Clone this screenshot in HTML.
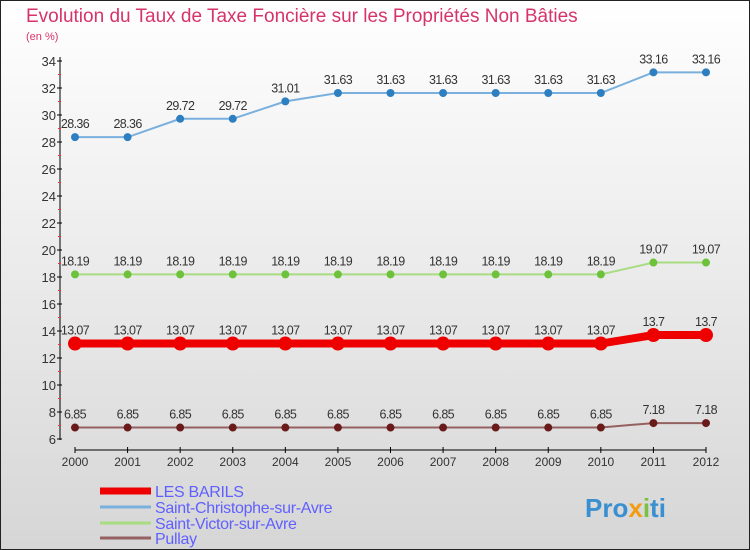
<!DOCTYPE html>
<html><head><meta charset="utf-8"><style>
body{margin:0}
svg{display:block;font-family:"Liberation Sans",sans-serif}
</style></head><body>
<svg id="c" width="750" height="550" viewBox="0 0 750 550">
<defs><linearGradient id="bg" x1="0" y1="0" x2="0" y2="1"><stop offset="0" stop-color="#ffffff"/><stop offset="1" stop-color="#d6d6d6"/></linearGradient></defs>
<rect x="0.5" y="0.5" width="749" height="549" fill="url(#bg)" stroke="#222"/>
<text x="26" y="22" font-size="19" fill="#d6336c">Evolution du Taux de Taxe Foncière sur les Propriétés Non Bâties</text>
<text x="26" y="40" font-size="11" fill="#d6336c">(en %)</text>
<g id="axes"></g>
<g id="series"></g>
<g id="legend"></g>
<text x="585" y="517" font-size="26" font-weight="bold" fill="#3a8fd0">Pro<tspan fill="#f39c12">x</tspan><tspan fill="#7ac143">i</tspan>ti</text>
</svg>
<script>
const years=[2000,2001,2002,2003,2004,2005,2006,2007,2008,2009,2010,2011,2012];
const yTicks=[6,8,10,12,14,16,18,20,22,24,26,28,30,32,34];
const seriesNames=["LES BARILS","Saint-Christophe-sur-Avre","Saint-Victor-sur-Avre","Pullay"];
const barils=[13.07,13.07,13.07,13.07,13.07,13.07,13.07,13.07,13.07,13.07,13.07,13.7,13.7];
const christophe=[28.36,28.36,29.72,29.72,31.01,31.63,31.63,31.63,31.63,31.63,31.63,33.16,33.16];
const victor=[18.19,18.19,18.19,18.19,18.19,18.19,18.19,18.19,18.19,18.19,18.19,19.07,19.07];
const pullay=[6.85,6.85,6.85,6.85,6.85,6.85,6.85,6.85,6.85,6.85,6.85,7.18,7.18];
const NS="http://www.w3.org/2000/svg";
const X=i=>75+i*(706-75)/(years.length-1);
const Y=v=>439-(v-6)*(439-61)/28;
function mk(t,a,p){const e=document.createElementNS(NS,t);for(const k in a)e.setAttribute(k,a[k]);p.appendChild(e);return e;}
const ax=document.getElementById('axes');
let l=mk('line',{x1:60,y1:57,x2:60,y2:440,stroke:'#000'},ax);


l=mk('line',{x1:75,y1:450,x2:706,y2:450,stroke:'#000'},ax);


yTicks.forEach(v=>{
 mk('line',{x1:57,y1:Y(v),x2:62,y2:Y(v),stroke:'#000'},ax);
 if(v<34) mk('line',{x1:58,y1:Y(v+1),x2:61,y2:Y(v+1),stroke:'#e33'},ax);
 const t=mk('text',{x:56,y:Y(v)+5,'font-size':13,'text-anchor':'end',fill:'#333'},ax);
 t.textContent=v;
 
 
});
years.forEach((yr,i)=>{
 mk('line',{x1:X(i),y1:447,x2:X(i),y2:453,stroke:'#000'},ax);
 const t=mk('text',{x:X(i),y:466,'font-size':12,'text-anchor':'middle',fill:'#333'},ax);
 t.textContent=yr;
 
 
});
const sg=document.getElementById('series');
const styles=[
 {d:barils,line:'#ee0000',w:8,dot:'#ee0000',r:7,name:'les-barils'},
 {d:christophe,line:'#7ab0dd',w:2,dot:'#2e7fc0',r:4,name:'saint-christophe'},
 {d:victor,line:'#a8dc80',w:2,dot:'#6cc23a',r:4,name:'saint-victor'},
 {d:pullay,line:'#946060',w:2,dot:'#6b1a1a',r:4,name:'pullay'}];
styles.forEach(s=>{
 const g=mk('g',{},sg);
 
 
 const p=mk('polyline',{points:s.d.map((v,i)=>X(i)+','+Y(v)).join(' '),fill:'none',stroke:s.line,'stroke-width':s.w},g);
 
 
 s.d.forEach((v,i)=>{
  const c=mk('circle',{cx:X(i),cy:Y(v),r:s.r,fill:s.dot},g);
  
  
  const t=mk('text',{x:X(i),y:Y(v)-9,'font-size':12.5,'text-anchor':'middle',fill:'#333','letter-spacing':'-0.6'},g);
  t.textContent=v;
  
  
 });
});
const lg=document.getElementById('legend');
const ly=[491,507,523,538];
styles.forEach((s,i)=>{
 const g=mk('g',{},lg);
 
 
 mk('line',{x1:100,y1:ly[i],x2:151,y2:ly[i],stroke:s.line,'stroke-width':i==0?7:3},g);
 const t=mk('text',{x:155,y:ly[i]+6,'font-size':16,fill:'#6060ff','letter-spacing':'-0.3'},g);
 t.textContent=seriesNames[i];
});
</script>
</body></html>
